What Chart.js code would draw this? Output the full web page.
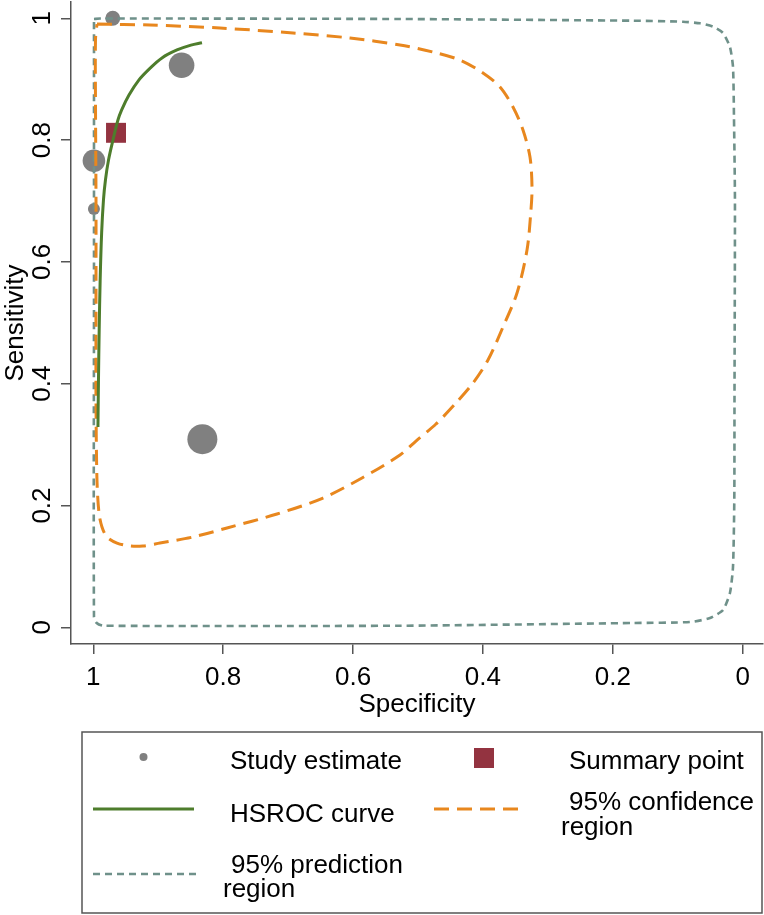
<!DOCTYPE html>
<html>
<head>
<meta charset="utf-8">
<script src="https://cdn.jsdelivr.net/npm/chart.js@4.4.0/dist/chart.umd.min.js"></script>
<style>
  html, body { margin: 0; padding: 0; background: #fff; }
  canvas { display: block; }
</style>
</head>
<body>
<canvas id="srocChart" width="764" height="915"></canvas>
<script>
// Axis ticks
const xTicks = [1, 0.8, 0.6, 0.4, 0.2, 0];
const yTicks = [0, 0.2, 0.4, 0.6, 0.8, 1];

// Individual studies: specificity, sensitivity, relative weight (bubble area)
const studySpec = [0.970, 0.864, 0.999, 0.999, 0.832];
const studySens = [1.000, 0.923, 0.766, 0.687, 0.309];
const studyWeight = [56, 164, 128, 36, 225];

// Summary operating point
const summarySpec = [0.965];
const summarySens = [0.812];

// HSROC curve
const hsrocSpec = [0.9928, 0.9920, 0.9909, 0.9894, 0.9871, 0.9843, 0.9812, 0.9766, 0.9697, 0.9620,
                   0.9566, 0.9450, 0.9296, 0.9127, 0.8942, 0.8711, 0.8496, 0.8326];
const hsrocSens = [0.329, 0.406, 0.488, 0.570, 0.648, 0.702, 0.735, 0.767, 0.800, 0.833,
                   0.849, 0.874, 0.899, 0.918, 0.935, 0.948, 0.956, 0.960];

// 95% confidence region (closed contour)
const confSpec = [0.9943, 0.9127, 0.8049, 0.6925, 0.6047, 0.5277, 0.4769, 0.4353, 0.3999, 0.3737,
                  0.3537, 0.3383, 0.3275, 0.3244, 0.3260, 0.3321, 0.3475, 0.3691, 0.3922, 0.4153,
                  0.4415, 0.4723, 0.5031, 0.5277, 0.5862, 0.6463, 0.7171, 0.7941, 0.8465, 0.8973,
                  0.9235, 0.9435, 0.9635, 0.9789, 0.9866, 0.9912, 0.9943, 0.9958, 0.9958, 0.9958,
                  0.9966, 0.9966, 0.9943];
const confSens = [0.9906, 0.9890, 0.9841, 0.9759, 0.9677, 0.9562, 0.9447, 0.9315, 0.9102, 0.8872,
                  0.8544, 0.8166, 0.7723, 0.7230, 0.6852, 0.6195, 0.5489, 0.4931, 0.4389, 0.4011,
                  0.3683, 0.3338, 0.3059, 0.2829, 0.2452, 0.2123, 0.1860, 0.1631, 0.1483, 0.1384,
                  0.1335, 0.1335, 0.1384, 0.1483, 0.1647, 0.1877, 0.2419, 0.3733, 0.5376, 0.7020,
                  0.8659, 0.9644, 0.9906];

// 95% prediction region (closed contour)
const predSpec = [0.9989, 0.9897, 0.5277, 0.1689, 0.0919, 0.0657, 0.0457, 0.0303, 0.0196, 0.0149,
                  0.0134, 0.0119, 0.0126, 0.0129, 0.0149, 0.0196, 0.0303, 0.0503, 0.0811, 0.1689,
                  0.5277, 0.9851, 0.9948, 0.9989, 0.9989, 0.9989];
const predSens = [0.9989, 0.9997, 0.9989, 0.9961, 0.9944, 0.9918, 0.9862, 0.9759, 0.9529, 0.9200,
                  0.8380, 0.7017, 0.3732, 0.2090, 0.0990, 0.0563, 0.0284, 0.0153, 0.0087, 0.0071,
                  0.0026, 0.0026, 0.0071, 0.0169, 0.5374, 0.9989];

const GREY = '#808080';
const RED = '#933340';
const GREEN = '#4e7d2c';
const ORANGE = '#e8871e';
const TEAL = '#6f918a';
const AXIS = '#555555';
const FONT = '"Liberation Sans", Arial, Helvetica, sans-serif';

Chart.defaults.font.family = FONT;

function pts(xs, ys) {
    return xs.map((x, i) => ({ x: x, y: ys[i] }));
}

// Boxed two-column legend drawn below the plot
const boxLegend = {
    id: 'boxLegend',
    afterDraw(chart) {
        const ctx = chart.ctx;
        const byLabel = {};
        chart.data.datasets.forEach(d => { byLabel[d.label] = d; });

        ctx.save();
        ctx.strokeStyle = AXIS;
        ctx.lineWidth = 1.5;
        ctx.strokeRect(82, 732, 680, 181);

        ctx.font = '26px ' + FONT;
        ctx.fillStyle = '#000';
        ctx.textBaseline = 'middle';
        ctx.textAlign = 'left';

        // Study estimate
        ctx.fillStyle = byLabel['Study estimate'].backgroundColor;
        ctx.beginPath();
        ctx.arc(143.5, 757, 4, 0, Math.PI * 2);
        ctx.fill();
        ctx.fillStyle = '#000';
        ctx.fillText('Study estimate', 230, 762);

        // Summary point
        ctx.fillStyle = byLabel['Summary point'].backgroundColor;
        ctx.fillRect(474, 748, 20, 20);
        ctx.fillStyle = '#000';
        ctx.fillText('Summary point', 569, 762);

        function legendLine(ds, x1, x2, y) {
            ctx.save();
            ctx.strokeStyle = ds.borderColor;
            ctx.lineWidth = ds.borderWidth;
            ctx.setLineDash(ds.borderDash || []);
            ctx.beginPath();
            ctx.moveTo(x1, y);
            ctx.lineTo(x2, y);
            ctx.stroke();
            ctx.restore();
        }

        legendLine(byLabel['HSROC curve'], 93, 194, 809);
        ctx.fillText('HSROC curve', 230, 815);

        legendLine(byLabel['95% confidence region'], 434, 525, 809);
        ctx.fillText('95% confidence', 569, 803);
        ctx.fillText('region', 561, 828);

        legendLine(byLabel['95% prediction region'], 93, 196, 874);
        ctx.fillText('95% prediction', 231, 866);
        ctx.fillText('region', 223, 890);

        ctx.restore();
    }
};

const chart = new Chart(document.getElementById('srocChart'), {
    type: 'scatter',
    data: {
        datasets: [
            {
                label: 'HSROC curve',
                data: pts(hsrocSpec, hsrocSens),
                showLine: true,
                borderColor: GREEN,
                borderWidth: 3,
                pointRadius: 0,
                tension: 0.35,
                order: 0
            },
            {
                label: '95% confidence region',
                data: pts(confSpec, confSens),
                showLine: true,
                borderColor: ORANGE,
                borderWidth: 3,
                borderDash: [15, 8],
                pointRadius: 0,
                tension: 0.3,
                order: 1
            },
            {
                label: '95% prediction region',
                data: pts(predSpec, predSens),
                showLine: true,
                borderColor: TEAL,
                borderWidth: 2.6,
                borderDash: [7, 5],
                pointRadius: 0,
                tension: 0.2,
                order: 2
            },
            {
                label: 'Summary point',
                data: pts(summarySpec, summarySens),
                pointStyle: 'rect',
                pointRadius: 14.1,
                backgroundColor: RED,
                borderWidth: 0,
                order: 3
            },
            {
                label: 'Study estimate',
                data: pts(studySpec, studySens),
                pointStyle: 'circle',
                pointRadius: c => Math.sqrt(studyWeight[c.dataIndex]),
                backgroundColor: GREY,
                borderWidth: 0,
                order: 4
            }
        ]
    },
    options: {
        responsive: false,
        animation: false,
        events: [],
        layout: { autoPadding: false, padding: { top: 2, right: 1, bottom: 195, left: 0 } },
        plugins: {
            legend: { display: false },
            tooltip: { enabled: false }
        },
        scales: {
            x: {
                type: 'linear',
                reverse: true,
                min: -0.0313,
                max: 1.0343,
                afterBuildTicks: s => { s.ticks = xTicks.map(v => ({ value: v })); },
                afterFit: s => { s.height = 76; s.paddingLeft = 0; s.paddingRight = 0; },
                grid: { display: true, drawOnChartArea: false, drawTicks: true, tickLength: 10, color: AXIS, lineWidth: 1.5 },
                border: { display: true, color: AXIS, width: 1.5 },
                ticks: {
                    color: '#000',
                    font: { size: 26 },
                    padding: 8,
                    minRotation: 0,
                    maxRotation: 0,
                    autoSkip: false,
                    callback: v => String(v)
                },
                title: {
                    display: true,
                    text: 'Specificity',
                    color: '#000',
                    font: { size: 26 },
                    padding: { top: 0, bottom: 0 }
                }
            },
            y: {
                type: 'linear',
                min: -0.0274,
                max: 1.0268,
                afterBuildTicks: s => { s.ticks = yTicks.map(v => ({ value: v })); },
                afterFit: s => { s.width = 71; s.paddingTop = 0; s.paddingBottom = 0; },
                grid: { display: true, drawOnChartArea: false, drawTicks: true, tickLength: 10, color: AXIS, lineWidth: 1.5 },
                border: { display: true, color: AXIS, width: 1.5 },
                ticks: {
                    color: '#000',
                    font: { size: 26 },
                    padding: 0,
                    minRotation: 90,
                    maxRotation: 90,
                    crossAlign: 'center',
                    autoSkip: false,
                    callback: v => String(v)
                },
                title: {
                    display: true,
                    text: 'Sensitivity',
                    color: '#000',
                    font: { size: 26 },
                    padding: { top: 0, bottom: 0 }
                }
            }
        }
    },
    plugins: [boxLegend]
});
</script>
</body>
</html>
